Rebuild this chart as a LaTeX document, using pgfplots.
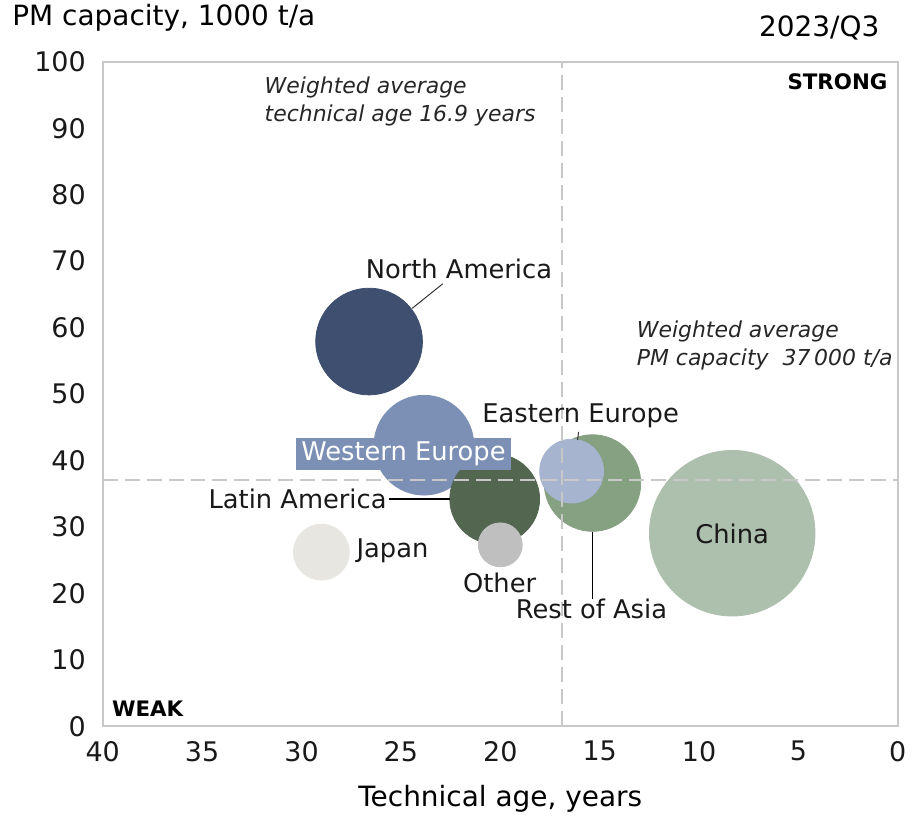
\documentclass[border=0pt]{standalone}
\usepackage{fontspec}
\setmainfont{DejaVu Sans}
\usepackage{pgfplots}
\pgfplotsset{compat=1.18}

\definecolor{cNA}{HTML}{3E4F6F}
\definecolor{cWE}{HTML}{7C8FB5}
\definecolor{cEE}{HTML}{A7B4CF}
\definecolor{cLA}{HTML}{526650}
\definecolor{cRA}{HTML}{86A082}
\definecolor{cCN}{HTML}{ADBFAD}
\definecolor{cJP}{HTML}{E8E6E1}
\definecolor{cOT}{HTML}{BFBFBF}
\definecolor{gridgray}{HTML}{C8C8C8}

\pgfplotsset{bubble/.style={mark=*, mark size=#1}}

\begin{document}
\begin{tikzpicture}
\begin{axis}[
  name=ax,
  set layers,
  width=398.5pt, height=333pt, scale only axis,
  x dir=reverse,
  xmin=0, xmax=40, ymin=0, ymax=100,
  xtick={0,5,...,40}, ytick={0,10,...,100},
  major tick length=0pt,
  axis line style={gridgray, line width=1pt},
  tick label style={font=\fontsize{13.5}{15}\selectfont, text=black!90},
  /pgf/number format/assume math mode=true,
  yticklabel style={xshift=-5pt},
  xticklabel style={yshift=-4pt},
  xlabel={Technical age, years},
  xlabel style={font=\fontsize{14}{16}\selectfont, yshift=-5pt},
  clip=false,
  only marks,
]
% bubbles: (technical age, capacity), radius in pt
\addplot[bubble=26.75pt, color=cNA, mark options={fill=cNA}] coordinates {(26.6,57.9)};
\addplot[bubble=25pt, color=cWE, mark options={fill=cWE}] coordinates {(23.84,42.3)};
\addplot[bubble=22.5pt, color=cLA, mark options={fill=cLA}] coordinates {(20.28,34.2)};
\addplot[bubble=11pt, color=cOT, mark options={fill=cOT}] coordinates {(20.0,27.3)};
\addplot[bubble=14pt, color=cJP, mark options={fill=cJP}] coordinates {(29.0,26.2)};
\addplot[bubble=24.2pt, color=cRA, mark options={fill=cRA}] coordinates {(15.36,36.6)};
\addplot[bubble=16pt, color=cEE, mark options={fill=cEE}] coordinates {(16.41,38.4)};
\addplot[bubble=41.5pt, color=cCN, mark options={fill=cCN}] coordinates {(8.33,29.05)};

\begin{pgfonlayer}{axis foreground}
% weighted averages
\draw[gridgray, line width=1pt, dash pattern=on 7.5pt off 3.5pt] (axis cs:16.9,0) -- (axis cs:16.9,100);
\draw[gridgray, line width=1pt, dash pattern=on 7.5pt off 3.5pt] (axis cs:40,37) -- (axis cs:0,37);

% labels
\begin{scope}[font=\fontsize{12.9}{14}\selectfont, text=black!90]
\node at (axis cs:22.08,68.8) {North America};
\draw[black!80, line width=0.5pt] (axis cs:24.43,62.9) -- (axis cs:22.89,66.6);
\node[fill=cWE, text=white, inner xsep=2.5pt, inner ysep=2pt] at (axis cs:24.87,41.0) {Western Europe};
\node at (axis cs:15.96,46.7) {Eastern Europe};
\draw[black!80, line width=0.5pt] (axis cs:16.06,44.3) -- (axis cs:16.11,43.1);
\node[anchor=east, inner sep=0pt] at (axis cs:25.70,34.2) {Latin America};
\draw[black, line width=0.6pt] (axis cs:25.60,34.2) -- (axis cs:22.53,34.2);
\node[anchor=west, inner sep=0pt] at (axis cs:27.25,26.4) {Japan};
\node at (axis cs:20.03,21.5) {Other};
\node at (axis cs:15.41,17.6) {Rest of Asia};
\draw[black, line width=0.6pt] (axis cs:15.36,29.3) -- (axis cs:15.36,19.2);
\node at (axis cs:8.33,29.0) {China};
\end{scope}

\begin{scope}[font=\itshape\fontsize{11}{14}\selectfont, text=black!85]
\node[anchor=west, align=left, inner sep=0pt] at (axis cs:31.87,94.0) {Weighted average\\technical age 16.9 years};
\node[anchor=west, align=left, inner sep=0pt] at (axis cs:13.15,57.3) {Weighted average\\PM capacity\ \ 37\,000 t/a};
\end{scope}

\node[anchor=east, inner sep=0pt, font=\bfseries\fontsize{10.7}{12}\selectfont] at (axis cs:0.5,97.0) {STRONG};
\node[anchor=west, inner sep=0pt, font=\bfseries\fontsize{10.7}{12}\selectfont] at (axis cs:39.55,2.7) {WEAK};
\end{pgfonlayer}

\node[anchor=west, inner sep=0pt, font=\fontsize{14}{16}\selectfont] at ([xshift=-45.5pt, yshift=22pt]rel axis cs:0,1) {PM capacity, 1000 t/a};
\node[anchor=east, inner sep=0pt, font=\fontsize{14}{16}\selectfont] at ([xshift=-9pt, yshift=17pt]rel axis cs:1,1) {2023/Q3};
\end{axis}
\path ([xshift=-51.5pt, yshift=-42.5pt]ax.south west) rectangle ([xshift=6.5pt, yshift=31pt]ax.north east);
\end{tikzpicture}
\end{document}
